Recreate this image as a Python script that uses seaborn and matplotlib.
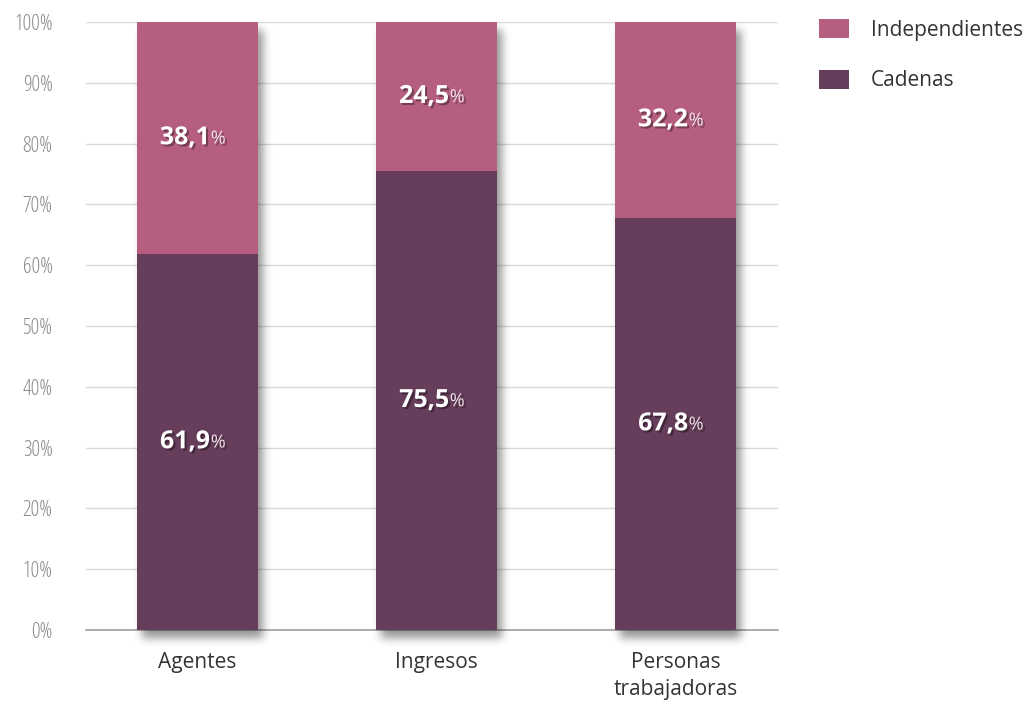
import matplotlib
matplotlib.use("Agg")
import matplotlib.pyplot as plt
import matplotlib.patheffects as pe
from matplotlib.patches import Patch
import seaborn as sns
import pandas as pd
import numpy as np

categories = ["Agentes", "Ingresos", "Personas\ntrabajadoras"]
cadenas = [61.9, 75.5, 67.8]
independientes = [38.1, 24.5, 32.2]
cad_labels = ["61,9", "75,5", "67,8"]
ind_labels = ["38,1", "24,5", "32,2"]
yticks = [0, 10, 20, 30, 40, 50, 60, 70, 80, 90, 100]
ytick_labels = [f"{v}%" for v in yticks]

col_ind = "#B65E80"
col_cad = "#663D5A"

sns.set_theme(style="white")
plt.rcParams["font.family"] = ["Open Sans", "DejaVu Sans"]

df = pd.DataFrame({"cat": categories, "cad": cadenas, "ind": independientes})
df["total"] = df["cad"] + df["ind"]

W, H = 1028, 706
fig = plt.figure(figsize=(W / 100, H / 100), dpi=100)
ax = fig.add_axes([86 / W, 1 - 630 / H, (778 - 86) / W, (630 - 22) / H])

sns.barplot(data=df, x="cat", y="total", color=col_ind, saturation=1, width=0.506, ax=ax, zorder=3)
bars_total = list(ax.patches)
for p in bars_total:
    p.set_edgecolor("none")
n0 = len(ax.patches)
sns.barplot(data=df, x="cat", y="cad", color=col_cad, saturation=1, width=0.506, ax=ax, zorder=4)
for p in ax.patches[n0:]:
    p.set_edgecolor("none")

ax.set_xlim(-0.467, 2.429)
ax.set_ylim(0, 100)
ax.set_yticks(yticks)
ax.set_yticklabels(ytick_labels, fontsize=15.5, color="#8C8C8C", fontstretch="condensed")
ax.tick_params(axis="y", length=0, pad=24)
ax.tick_params(axis="x", length=0, pad=16, labelsize=15, labelcolor="#333333")
for t in ax.get_xticklabels():
    t.set_linespacing(1.35)
ax.set_xlabel("")
ax.set_ylabel("")
for s in ["top", "right", "left"]:
    ax.spines[s].set_visible(False)
ax.spines["bottom"].set_color("#A0A0A0")
ax.spines["bottom"].set_linewidth(1.2)
ax.spines["bottom"].set_zorder(2)
ax.yaxis.grid(True, color="#D9D9D9", linewidth=1.0, zorder=0)
ax.set_axisbelow(True)

# soft drop shadow derived from the drawn bar extents
fig.canvas.draw()
mask = np.zeros((H, W))
dx, dy = 5, 8
for p in bars_total:
    bb = p.get_window_extent()
    x0, x1 = int(round(bb.x0)) + dx, int(round(bb.x1)) + dx
    r0, r1 = int(round(H - bb.y1)) + dy, int(round(H - bb.y0)) + dy
    mask[max(r0, 0):min(r1, H), max(x0, 0):min(x1, W)] = 1.0
sigma = 4.5
k = np.arange(-14, 15)
kern = np.exp(-k ** 2 / (2 * sigma ** 2))
kern /= kern.sum()
mask = np.apply_along_axis(lambda m: np.convolve(m, kern, mode="same"), 1, mask)
mask = np.apply_along_axis(lambda m: np.convolve(m, kern, mode="same"), 0, mask)
rgba = np.zeros((H, W, 4))
rgba[..., 3] = mask * 0.42
ax.imshow(rgba, extent=[0, 1, 0, 1], transform=fig.transFigure, origin="upper",
          zorder=2.5, clip_on=False, aspect="auto", interpolation="nearest")
ax.set_xlim(-0.467, 2.429)
ax.set_ylim(0, 100)

txt_shadow = [pe.withSimplePatchShadow(offset=(1.5, -1.5), shadow_rgbFace="black", alpha=0.35)]

for i in range(len(categories)):
    for y, lab in [(cadenas[i] / 2, cad_labels[i]), (cadenas[i] + independientes[i] / 2, ind_labels[i])]:
        ax.annotate(lab, (i, y), xytext=(9, 0), textcoords="offset points", ha="right", va="center",
                    fontsize=18, fontweight="bold", color="white", zorder=6, path_effects=txt_shadow)
        ax.annotate("%", (i, y), xytext=(9.5, -0.5), textcoords="offset points", ha="left", va="center",
                    fontsize=13, color="#F2E6EC", zorder=6, path_effects=txt_shadow)

handles = [Patch(facecolor=col_ind, edgecolor="none", label="Independientes"),
           Patch(facecolor=col_cad, edgecolor="none", label="Cadenas")]
fig.legend(handles=handles, loc="upper left", bbox_to_anchor=(800 / W, 1 - 0 / H), frameon=False,
           fontsize=15, handlelength=1.45, handleheight=1.05, handletextpad=1.05, labelspacing=1.4,
           labelcolor="#333333")

fig.savefig("out.png", dpi=100)
